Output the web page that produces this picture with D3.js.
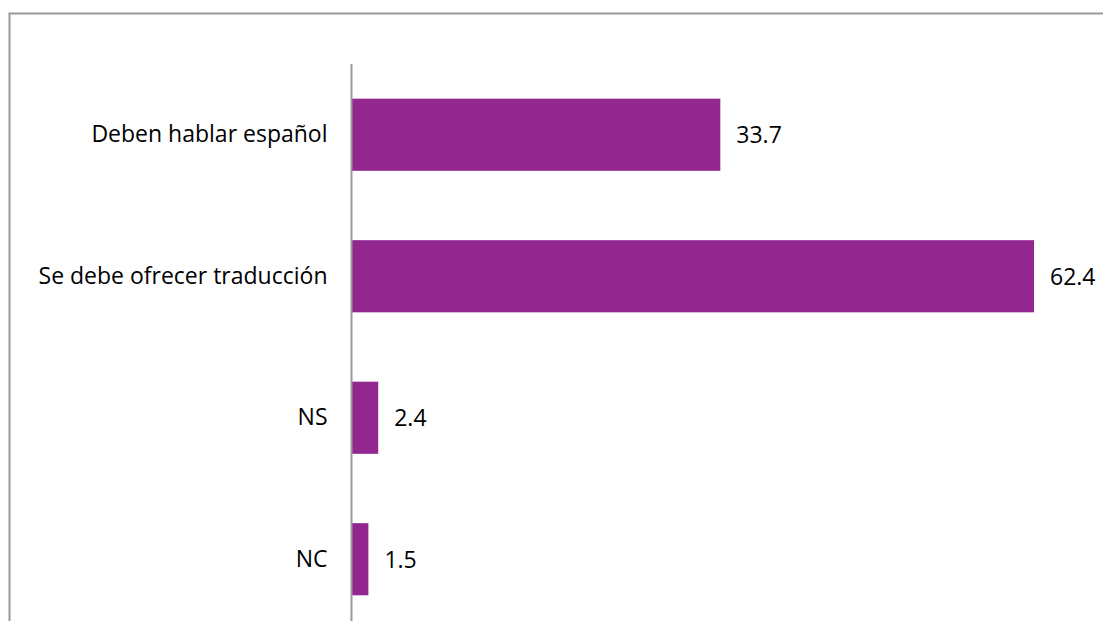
<!DOCTYPE html>
<html>
<head>
<meta charset="utf-8">
<script src="https://cdn.jsdelivr.net/npm/d3@7"></script>
<style>
  body { margin: 0; background: #fff; }
  svg { display: block; }
</style>
</head>
<body>
<script>
var categories = ["Deben hablar español", "Se debe ofrecer traducción", "NS", "NC"];
var values = [33.7, 62.4, 2.4, 1.5];

var width = 1103,
    height = 621,
    axisX = 351.5,
    barColor = "#92278F";

var svg = d3.select("body").append("svg")
    .attr("width", width)
    .attr("height", height);

// chart frame (left and top edges only visible)
svg.append("path")
    .attr("d", "M9.5," + height + "V13.5H" + width)
    .attr("fill", "none")
    .attr("stroke", "#999")
    .attr("stroke-width", 2);

var x = d3.scaleLinear()
    .domain([0, 62.4])
    .range([axisX + 0.5, 1034]);

var y = d3.scaleBand()
    .domain(categories)
    .range([64, 630])
    .paddingInner(0.49)
    .paddingOuter(0.245);

var data = categories.map(function (c, i) { return { cat: c, val: values[i] }; });

svg.append("g")
    .selectAll("rect")
    .data(data)
    .enter().append("rect")
    .attr("x", x(0))
    .attr("y", function (d) { return y(d.cat); })
    .attr("width", function (d) { return x(d.val) - x(0); })
    .attr("height", y.bandwidth())
    .attr("fill", barColor);

// value labels
svg.append("g")
    .selectAll("text")
    .data(data)
    .enter().append("text")
    .attr("x", function (d) { return x(d.val) + 16; })
    .attr("y", function (d) { return y(d.cat) + y.bandwidth() / 2; })
    .attr("dy", "0.36em")
    .style("font-family", "'Open Sans', sans-serif")
    .style("font-size", "23px")
    .attr("fill", "#000")
    .text(function (d) { return d.val.toFixed(1); });

// category axis
var axis = svg.append("g")
    .attr("transform", "translate(" + axisX + ",0)")
    .call(d3.axisLeft(y).tickSize(0).tickPadding(24));

axis.select(".domain")
    .attr("d", "M0,64V" + height)
    .attr("stroke", "#999")
    .attr("stroke-width", 2);

axis.selectAll("text")
    .style("font-family", "'Open Sans', sans-serif")
    .style("font-size", "23px")
    .attr("fill", "#000");
</script>
</body>
</html>
